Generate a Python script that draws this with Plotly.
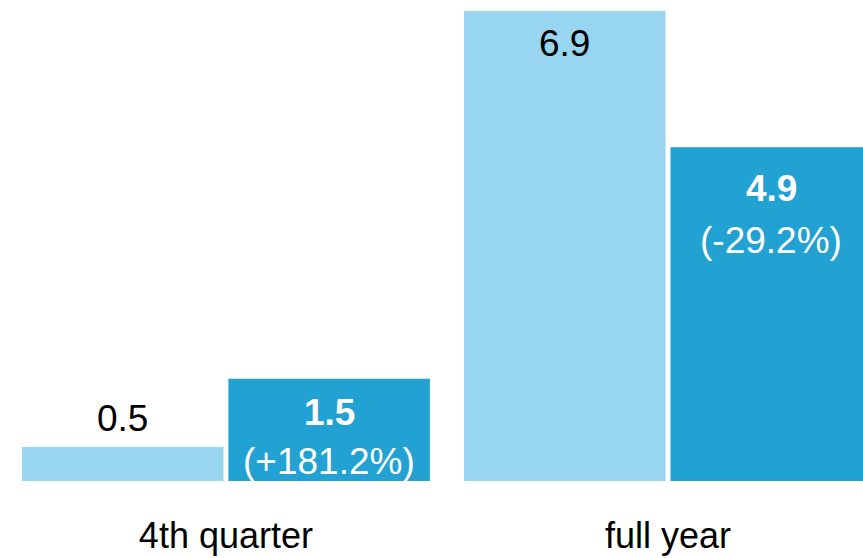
import plotly.graph_objects as go

# Data
categories = ["4th quarter", "full year"]
prior_values = [0.5, 6.9]
current_values = [1.5, 4.9]
current_change = ["(+181.2%)", "(-29.2%)"]

LIGHT = "#97D5F0"
DARK = "#22A1D3"
FONT = "Liberation Sans, Arial, sans-serif"

BARGAP = 0.066
BARGROUPGAP = 0.024
x_pos = list(range(len(categories)))
slot = (1 - BARGAP) / 4  # offset of each bar centre from the group centre

fig = go.Figure()
fig.add_trace(go.Bar(x=x_pos, y=prior_values, marker_color=LIGHT,
                     marker_line_width=0, hoverinfo="skip"))
fig.add_trace(go.Bar(x=x_pos, y=current_values, marker_color=DARK,
                     marker_line_width=0, hoverinfo="skip"))

annotations = []
# prior-period labels (black): above the short bar, inside the tall bar
prior_shift = [28, -33]
for i, v in enumerate(prior_values):
    annotations.append(dict(x=x_pos[i] - slot, y=v, xref="x", yref="y",
                            text=f"{v:.1f}", showarrow=False, yanchor="middle",
                            xanchor="center", yshift=prior_shift[i],
                            font=dict(family=FONT, size=37, color="#000000")))
# current-period labels (white, bold value + change line)
value_shift = [-34, -41]
change_shift = [-83, -93]
for i, v in enumerate(current_values):
    annotations.append(dict(x=x_pos[i] + slot, y=v, xref="x", yref="y",
                            text=f"<b>{v:.1f}</b>", showarrow=False, yanchor="middle",
                            xanchor="center", yshift=value_shift[i],
                            font=dict(family=FONT, size=37, color="#FFFFFF")))
    annotations.append(dict(x=x_pos[i] + slot, y=v, xref="x", yref="y",
                            text=current_change[i], showarrow=False, yanchor="middle",
                            xanchor="center", yshift=change_shift[i],
                            font=dict(family=FONT, size=37, color="#FFFFFF")))

fig.update_layout(
    width=863, height=558,
    margin=dict(l=0, r=0, t=0, b=77, pad=0),
    paper_bgcolor="white", plot_bgcolor="white",
    barmode="group", bargap=BARGAP, bargroupgap=BARGROUPGAP,
    showlegend=False,
    xaxis=dict(range=[-0.511, 1.441], tickmode="array", tickvals=x_pos,
               ticktext=categories, ticks="", ticklabelstandoff=30,
               tickfont=dict(family=FONT, size=36, color="#000000"),
               showgrid=False, zeroline=False, showline=False,
               automargin=False, fixedrange=True),
    yaxis=dict(range=[0, 7.061], showticklabels=False, showgrid=False,
               zeroline=False, showline=False, fixedrange=True),
    annotations=annotations,
)

fig.write_html("out.html", config={"displayModeBar": False})
